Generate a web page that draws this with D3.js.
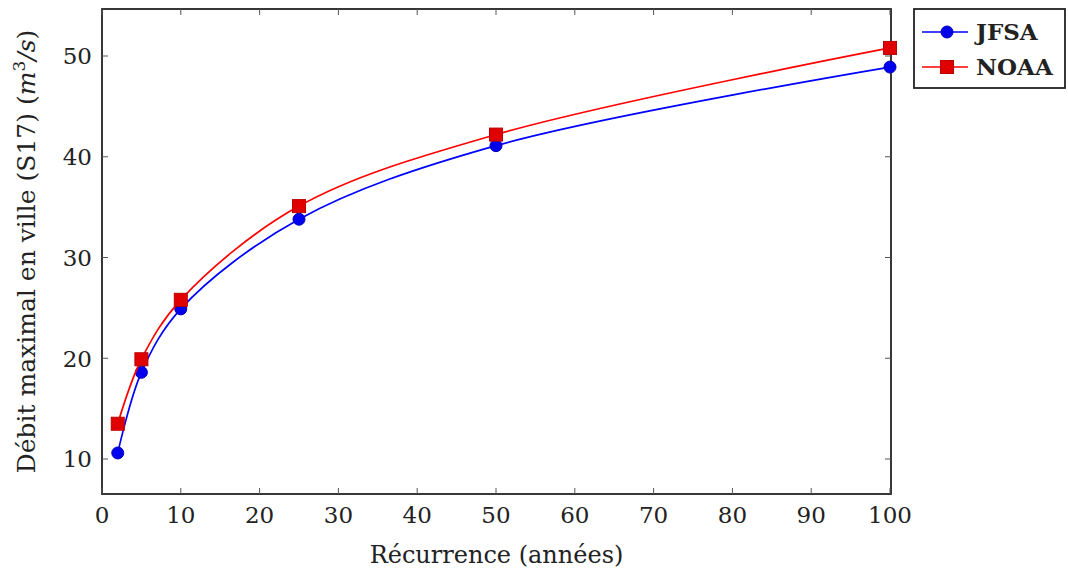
<!DOCTYPE html>
<meta charset="utf-8">
<style>
  body { margin: 0; background: #fff; }
  text { font-family: "DejaVu Serif", "Liberation Serif", serif; fill: #222; }
</style>
<svg width="1068" height="571"></svg>
<script src="https://d3js.org/d3.v7.min.js"></script>
<script>

var years = [2, 5, 10, 25, 50, 100];
var jfsa = [10.6, 18.6, 24.9, 33.8, 41.1, 48.9];
var noaa = [13.5, 19.9, 25.8, 35.1, 42.2, 50.8];
var xTicks = [0, 10, 20, 30, 40, 50, 60, 70, 80, 90, 100];
var yTicks = [10, 20, 30, 40, 50];

var svg = d3.select("svg"),
    pL = 102, pR = 891, pT = 9, pB = 494;

var x = d3.scaleLinear().domain([0, 100]).range([pL, pR - 1]);
var y = d3.scaleLinear().domain([10, 50]).range([459, 56]);

// frame
svg.append("rect")
    .attr("x", pL).attr("y", pT)
    .attr("width", pR - pL).attr("height", pB - pT)
    .attr("fill", "none").attr("stroke", "#222").attr("stroke-width", 1.8);

// ticks (inside, mirrored)
var tl = 6;
xTicks.forEach(function(t) {
  svg.append("line").attr("x1", x(t)).attr("x2", x(t)).attr("y1", pB).attr("y2", pB - tl).attr("stroke", "#555");
  svg.append("line").attr("x1", x(t)).attr("x2", x(t)).attr("y1", pT).attr("y2", pT + tl).attr("stroke", "#555");
  svg.append("text").attr("x", x(t)).attr("y", pB + 29)
      .attr("text-anchor", "middle").style("font-size", "23px").text(t);
});
yTicks.forEach(function(t) {
  svg.append("line").attr("y1", y(t)).attr("y2", y(t)).attr("x1", pL).attr("x2", pL + tl).attr("stroke", "#555");
  svg.append("line").attr("y1", y(t)).attr("y2", y(t)).attr("x1", pR).attr("x2", pR - tl).attr("stroke", "#555");
  svg.append("text").attr("x", pL - 10).attr("y", y(t)).attr("dy", "0.36em")
      .attr("text-anchor", "end").style("font-size", "23px").text(t);
});

var line = d3.line()
    .x(function(d) { return x(d[0]); })
    .y(function(d) { return y(d[1]); })
    .curve(d3.curveCatmullRom.alpha(0.5));

var series = [
  {name: "JFSA", values: jfsa, color: "#0000ff", marker: "circle"},
  {name: "NOAA", values: noaa, color: "#ff0000", marker: "square"}
];

function marker(g, s, cx, cy) {
  if (s.marker === "circle") {
    g.append("circle").attr("cx", cx).attr("cy", cy).attr("r", 6)
        .attr("fill", "#0000ee").attr("stroke", "#0000bb");
  } else {
    g.append("rect").attr("x", cx - 6.5).attr("y", cy - 6.5)
        .attr("width", 13).attr("height", 13)
        .attr("fill", "#e00000").attr("stroke", "#bb0000");
  }
}

series.forEach(function(s) {
  var pts = years.map(function(yr, i) { return [yr, s.values[i]]; });
  svg.append("path").datum(pts).attr("d", line)
      .attr("fill", "none").attr("stroke", s.color).attr("stroke-width", 1.7);
  pts.forEach(function(p) { marker(svg, s, x(p[0]), y(p[1])); });
});

// axis labels
svg.append("text").attr("x", (pL + pR) / 2).attr("y", 563)
    .attr("text-anchor", "middle").style("font-size", "24px").text("Récurrence (années)");

var yl = svg.append("text")
    .attr("transform", "translate(35," + ((pT + pB) / 2) + ") rotate(-90)")
    .attr("text-anchor", "middle").style("font-size", "25px");
yl.append("tspan").text("Débit maximal en ville (S17) (");
yl.append("tspan").style("font-style", "italic").text("m");
yl.append("tspan").attr("dy", -10).style("font-size", "17px").text("3");
yl.append("tspan").attr("dy", 10).style("font-style", "italic").text("/s");
yl.append("tspan").text(")");

// legend
var lg = svg.append("g").attr("transform", "translate(914,9)");
lg.append("rect").attr("width", 151).attr("height", 79)
    .attr("fill", "#fff").attr("stroke", "#222").attr("stroke-width", 1.8);
series.forEach(function(s, i) {
  var cy = 23 + i * 35;
  lg.append("line").attr("x1", 8).attr("x2", 54).attr("y1", cy).attr("y2", cy)
      .attr("stroke", s.color).attr("stroke-width", 1.7);
  marker(lg, s, 33, cy);
  lg.append("text").attr("x", 62).attr("y", cy).attr("dy", "0.36em")
      .style("font-size", "23px").style("font-weight", "bold").text(s.name);
});

</script>
